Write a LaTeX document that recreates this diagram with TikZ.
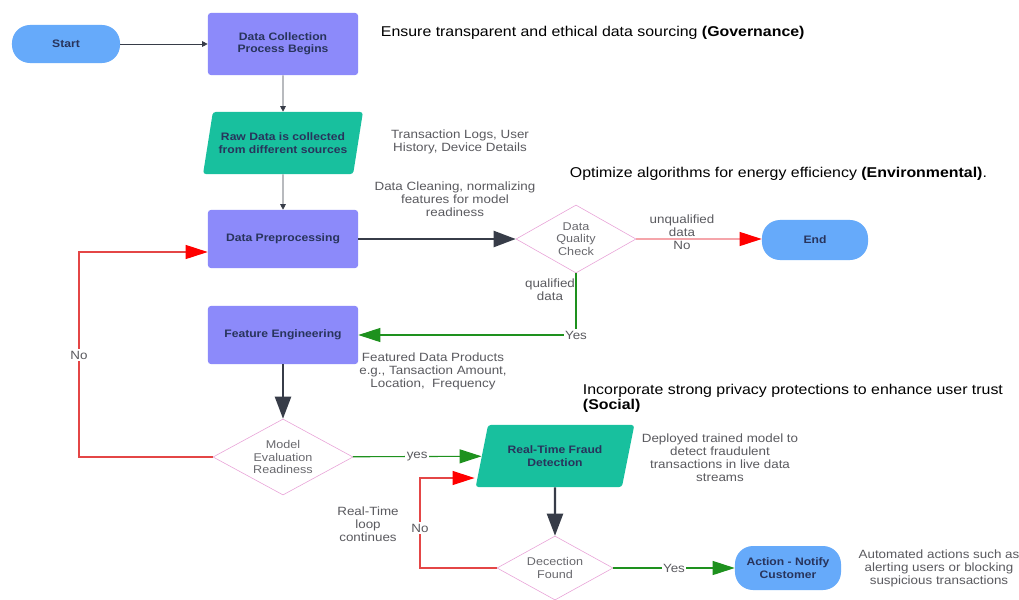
\documentclass[tikz,border=0pt]{standalone}
\usepackage{fontspec}
\setmainfont{Liberation Sans}[FakeStretch=1.12]
\usetikzlibrary{shapes.geometric,arrows.meta,calc}
\definecolor{termblue}{RGB}{102,170,250}
\definecolor{procpurple}{RGB}{140,138,250}
\definecolor{ioteal}{RGB}{24,192,158}
\definecolor{decpink}{RGB}{232,160,215}
\definecolor{boxtext}{RGB}{40,52,92}
\definecolor{dectext}{RGB}{105,105,110}
\definecolor{notegray}{RGB}{90,90,95}
\definecolor{arrowdark}{RGB}{55,60,72}
\definecolor{yesgreen}{RGB}{30,145,30}
\definecolor{nored}{RGB}{228,70,70}
\definecolor{nopink}{RGB}{245,165,170}
\newcommand{\boxfont}{\fontsize{7.7}{8.8}\selectfont\bfseries}
\newcommand{\decfont}{\fontsize{8}{9}\selectfont}
\newcommand{\notefont}{\fontsize{8.5}{9.2}\selectfont}
\newcommand{\esgfont}{\fontsize{10.1}{10.6}\selectfont}
\begin{document}
\begin{tikzpicture}[x=0.025cm,y=-0.025cm,
 terminal/.style={fill=termblue,rounded corners=0.45cm,minimum width=2.7cm,minimum height=0.95cm,font=\boxfont,text=boxtext,align=center},
 process/.style={fill=procpurple,rounded corners=2pt,minimum width=3.75cm,minimum height=1.45cm,font=\boxfont,text=boxtext,align=center},
 dataio/.style={trapezium,trapezium left angle=72,trapezium right angle=108,trapezium stretches=true,fill=ioteal,rounded corners=2pt,minimum width=4cm,minimum height=1.55cm,font=\boxfont,text=boxtext,align=center},
 decision/.style={diamond,draw=decpink,fill=white,aspect=2,inner sep=0pt,font=\decfont,text=dectext,align=center},
 note/.style={font=\notefont,text=notegray,align=center},
 esg/.style={font=\esgfont,anchor=west,align=left},
 tag/.style={font=\notefont,text=notegray,fill=white,inner sep=1pt},
 flowline/.style={draw=arrowdark,line width=0.5pt,-{Triangle[length=4pt,width=4pt]}},
 heavy/.style={draw=arrowdark,line width=1.6pt,-{Triangle[length=0.55cm,width=0.4cm]}},
 yesline/.style={draw=yesgreen,line width=0.8pt,-{Triangle[length=0.55cm,width=0.35cm]}},
 noline/.style={draw=nored,line width=0.8pt,-{Triangle[length=0.55cm,width=0.35cm,color=red]}}]
\useasboundingbox[fill=white] (0,0) rectangle (1019,599);
\node[terminal] (start) at (66,44) {Start};
\node[process,minimum height=1.55cm] (collect) at (283,44) {Data Collection\\Process Begins};
\node[dataio] (raw) at (283,143) {Raw Data is collected\\from different sources};
\node[process] (prep) at (283,239) {Data Preprocessing};
\node[decision,minimum width=3cm,minimum height=1.7cm] (quality) at (576,239) {Data\\Quality\\Check};
\node[terminal,minimum width=2.65cm,minimum height=1cm] (finish) at (815,240) {End};
\node[process] (feature) at (283,335) {Feature Engineering};
\node[decision,minimum width=3.5cm,minimum height=1.9cm] (readiness) at (283,457) {Model\\Evaluation\\Readiness};
\node[dataio] (fraud) at (555,456) {Real-Time Fraud\\Detection};
\node[decision,minimum width=2.9cm,minimum height=1.6cm] (found) at (555,568) {Decection\\Found};
\node[terminal,minimum width=2.65cm,minimum height=1.1cm] (notify) at (788,568) {Action - Notify\\Customer};
\node[esg] (governance) at (376,33) {Ensure transparent and ethical data sourcing \textbf{(Governance)}};
\node[esg] (environmental) at (565,174) {Optimize algorithms for energy efficiency \textbf{(Environmental)}.};
\node[esg,anchor=north west] (social) at (578,379) {Incorporate strong privacy protections to enhance user trust\\\textbf{(Social)}};
\node[note] (sources) at (460,142) {Transaction Logs, User\\History, Device Details};
\node[note] (cleaning) at (455,199) {Data Cleaning, normalizing\\features for model\\readiness};
\node[note] (products) at (433,371) {Featured Data Products\\e.g., Tansaction Amount,\\Location,\ \ Frequency};
\node[note] (deployed) at (720,458) {Deployed trained model to\\detect fraudulent\\transactions in live data\\streams};
\node[note] (loopnote) at (368,524) {Real-Time\\loop\\continues};
\node[note] (actions) at (939,568) {Automated actions such as\\alerting users or blocking\\suspicious transactions};
\node[note] (unqualified) at (682,232) {unqualified\\data\\No};
\node[note] (qualified) at (550,290) {qualified\\data};
\coordinate (loopin) at ($(fraud.west)+(-7,22)$);
\draw[flowline] (start) -- (collect);
\draw[flowline] (collect) -- (raw);
\draw[flowline] (raw) -- (prep);
\draw[heavy] (prep) -- (quality);
\draw[noline,draw=nopink] (quality.east) -- (quality.east -| finish.west);
\draw[yesline] (quality.south) |- (feature.east) node[tag,pos=0.5] {Yes};
\draw[heavy] (feature) -- (readiness);
\draw[noline] (readiness.west) -- (79,457) |- ($(prep.west)+(0,13)$);
\node[tag] (backno) at (79,355) {No};
\draw[yesline] (readiness) -- (fraud) node[tag,midway] {yes};
\draw[heavy] (fraud) -- (found);
\draw[noline] (found.west) -- (420,568) |- (loopin);
\node[tag] (loopno) at (420,528) {No};
\draw[yesline] (found) -- (notify) node[tag,midway] {Yes};
\end{tikzpicture}
\end{document}
